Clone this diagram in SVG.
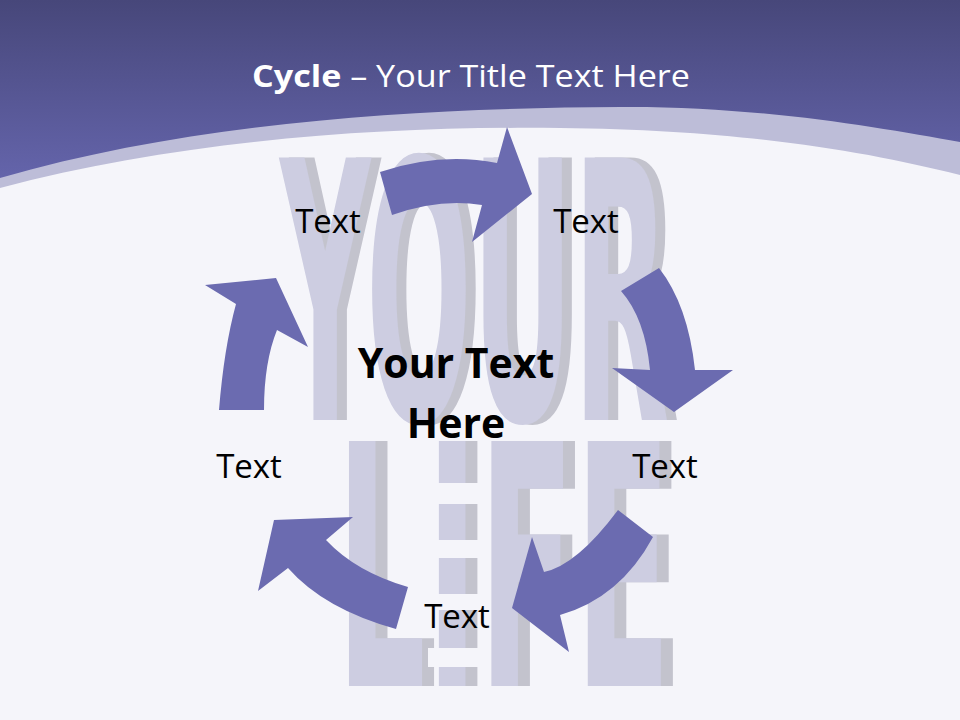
<svg xmlns="http://www.w3.org/2000/svg" width="960" height="720" viewBox="0 0 960 720">
  <defs>
    <linearGradient id="hdr" x1="0" y1="0" x2="0" y2="190" gradientUnits="userSpaceOnUse">
      <stop offset="0" stop-color="#47477a"/>
      <stop offset="1" stop-color="#6666ae"/>
    </linearGradient>
    <filter id="side" x="-5%" y="-5%" width="120%" height="110%">
      <feOffset in="SourceAlpha" dx="28" dy="0" result="off"/>
      <feFlood flood-color="#c3c3cd"/>
      <feComposite in2="off" operator="in"/>
      <feMerge>
        <feMergeNode/>
        <feMergeNode in="SourceGraphic"/>
      </feMerge>
    </filter>
    <style>
      .big { font-family: "DejaVu Sans", "Liberation Sans", sans-serif; font-weight: bold; fill: #cdcde1; filter: url(#side); }
      .lbl { font-family: "Open Sans", "Noto Sans", sans-serif; font-size: 33px; fill: #000000; text-anchor: middle; }
      .center { font-family: "Open Sans", "Noto Sans", sans-serif; font-size: 41px; font-weight: bold; fill: #000000; text-anchor: middle; }
      .title { font-family: "Open Sans", "Noto Sans", sans-serif; font-size: 31px; fill: #ffffff; }
      .arrow { fill: #6b6bb0; }
    </style>
  </defs>

  <!-- background -->
  <rect id="bg" x="0" y="0" width="960" height="720" fill="#f5f5fa"/>

  <!-- decorative background lettering -->
  <g id="bg-letters">
    <text class="big" transform="translate(280,420) scale(0.3466,1)" font-size="360">YOUR</text>
    <text class="big" transform="translate(336,686) scale(0.42,1)" font-size="336">LIFE</text>
    <g fill="#f5f5fa">
      <rect x="428" y="483" width="58" height="21"/>
      <rect x="428" y="540" width="58" height="18"/>
      <rect x="428" y="594" width="58" height="16"/>
      <rect x="428" y="648" width="58" height="19"/>
    </g>
  </g>

  <!-- header -->
  <g id="header">
    <path d="M0,0 H960 V175 C860,150 740,130 560,128 C380,126 180,140 0,188 Z" fill="#bdbdd8"/>
    <path d="M0,0 H960 V142 C880,128 760,106 620,107 C430,108 200,120 0,178 Z" fill="url(#hdr)"/>
  </g>

  <g id="title">
    <text class="title" x="252" y="87" textLength="438" lengthAdjust="spacingAndGlyphs"><tspan font-weight="bold">Cycle</tspan> – Your Title Text Here</text>
  </g>

  <!-- connectors -->
  <g id="connectors">
    <path id="arrow-top" class="arrow" d="M380,172 Q440,152 497,163 L507,127 L532,194 L472,242 L482,205 Q440,198 392,215 Z"/>
    <path id="arrow-right" class="arrow" d="M621,291 L659,268 Q688,305 695,370 L733,370 L674,412 L612,368 L650,370 Q645,318 621,291 Z"/>
    <path id="arrow-bottom-right" class="arrow" d="M618,510 Q577,565 544,572 L532,537 L512,608 L569,652 L560,615 Q620,598 653,537 Z"/>
    <path id="arrow-bottom-left" class="arrow" d="M408,587 Q356,572 326,540 L353,517 L274,520 L258,591 L288,568 Q324,609 396,629 Z"/>
    <path id="arrow-left" class="arrow" d="M219,410 Q224,348 236,304 L205,285 L276,278 L308,347 L277,330 Q264,362 264,410 Z"/>
  </g>

  <!-- nodes -->
  <g id="node-center">
    <text class="center" x="456" y="378">Your Text</text>
    <text class="center" x="456" y="438">Here</text>
  </g>
  <g id="node-top-left"><text class="lbl" x="328" y="233">Text</text></g>
  <g id="node-top-right"><text class="lbl" x="586" y="233">Text</text></g>
  <g id="node-right"><text class="lbl" x="665" y="478">Text</text></g>
  <g id="node-bottom"><text class="lbl" x="457" y="628">Text</text></g>
  <g id="node-left"><text class="lbl" x="249" y="478">Text</text></g>
</svg>
